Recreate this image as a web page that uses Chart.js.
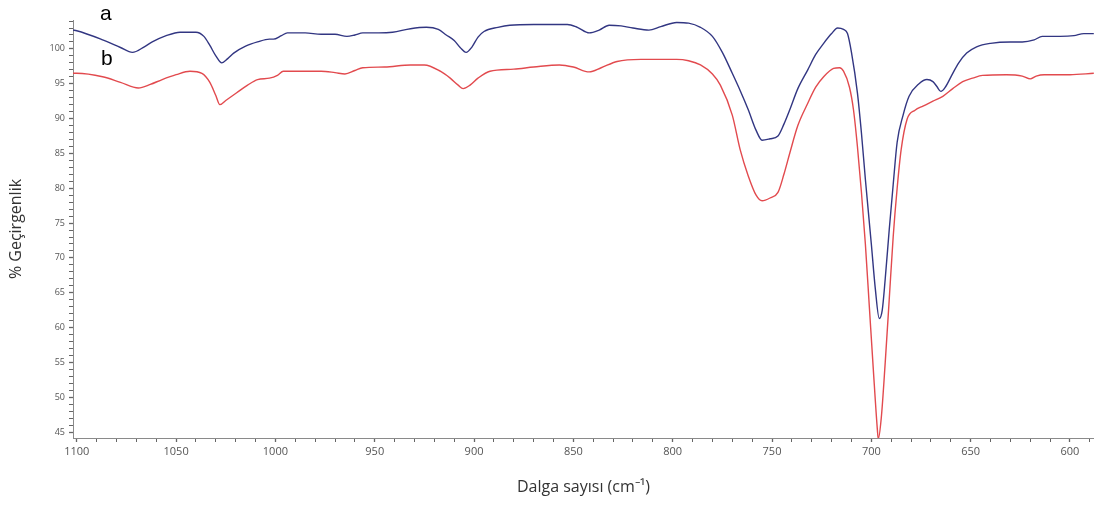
<!DOCTYPE html>
<html><head><meta charset="utf-8">
<script src="https://cdn.jsdelivr.net/npm/chart.js@4.4.1/dist/chart.umd.min.js"></script>
<style>html,body{margin:0;padding:0;background:#fff}#wrap{width:1094px;height:507px;position:relative}</style>
</head><body><div id="wrap"><canvas id="c" width="1094" height="507"></canvas></div>
<script>
// Series a (blue)
const wnA = [1102,1100,1087,1078,1072,1066,1062,1055,1048,1040,1036,1033,1030,1027,1024,1021,1015,1009,1003,1001,997,994,985,977,970,964,960,956,948,941,932,924,918,914,910,907,904,901,898,895,888,882,870,853,848,842,837,832,826,820,812,806,798,792,786,780,775,770,766,762,758,755,751,747,744,741,737,732,728,724,720,717,714,712,710,707,705,703,700,698,696,694.5,693,691,689,687,684,681,676,672,669,667,665,663,659,656,652,647,640,630,624,618,614,605,598,593,588];
const valA = [102.7,102.6,101.3,100.2,99.5,100.3,101,101.9,102.4,102.4,101.8,100.5,99,98,98.6,99.4,100.4,101,101.4,101.4,101.9,102.3,102.3,102.1,102.1,101.8,102.0,102.3,102.3,102.4,102.9,103.1,102.8,102,101.2,100.2,99.5,100.3,101.7,102.5,103.1,103.4,103.5,103.5,103.1,102.3,102.7,103.4,103.3,103,102.7,103.2,103.8,103.7,103.1,101.8,99.5,96.5,94,91.3,88.3,86.9,87.1,87.5,89.2,91.3,94.3,97,99.2,100.8,102.2,103,102.8,102.2,99.5,93.7,88,81.3,72,65.6,61.3,62.5,67,74,80.5,86.6,90.5,93.2,95,95.6,95.3,94.6,93.9,94.4,96.5,98,99.4,100.3,100.8,101,101,101.3,101.8,101.8,101.9,102.2,102.2];
// Series b (red)
const wnB = [1102,1100,1087,1078,1069,1063,1057,1050,1043,1037,1033,1030,1028,1025,1019.5,1014,1009,1003,999,996,985,977,970,965,960,956,945,932,925,917,912,908,905.5,902,898,892,880,870,857,850,842,836,828,816,798,792,786,780,776,770,766,762,758,755,751,747,744,741,737,732,728,724,719,716,714,711,709,707,705,703,701,699,697,696.5,695,693,691,689,687,685,682,678,674,669,664,659,654,649,644,632,624,620,617,613,600,588];
const valB = [96.5,96.5,96,95.2,94.4,94.9,95.6,96.3,96.8,96.5,95.2,93.3,92,92.6,93.7,94.8,95.6,95.8,96.2,96.8,96.8,96.8,96.6,96.4,96.9,97.3,97.4,97.7,97.7,96.8,95.8,94.8,94.3,94.8,95.8,96.8,97.1,97.4,97.7,97.4,96.7,97.3,98.2,98.5,98.5,98.3,97.7,96.4,94.8,90.5,85.5,81.8,79,78.2,78.6,79.4,82,85.1,89,92.2,94.5,96,97.2,97.3,96.8,94.5,91.3,86,79.5,72,63,54,45.5,44.0,47,55,64,73,80,85.5,89.9,91.2,91.8,92.5,93.2,94.3,95.3,95.8,96.2,96.3,96.1,95.7,96.1,96.3,96.3,96.5];
// Axis ticks (labelled majors and unlabelled minor tick positions)
const xMajorTicks = [1100,1050,1000,950,900,850,800,750,700,650,600];
const xMinorTicks = [1090,1080,1070,1060,1040,1030,1020,1010,990,980,970,960,940,930,920,910,890,880,870,860,840,830,820,810,790,780,770,760,740,730,720,710,690,680,670,660,640,630,620,610,590];
const yMajorTicks = [45,50,55,60,65,70,75,80,85,90,95,100];
const yMinorTicks = [46,47,48,49,51,52,53,54,56,57,58,59,61,62,63,64,66,67,68,69,71,72,73,74,76,77,78,79,81,82,83,84,86,87,88,89,91,92,93,94,96,97,98,99,101,102,103,104];
const seriesLabels = ['a','b'];
const xTitle = 'Dalga sayısı (cm⁻¹)';
const yTitle = '% Geçirgenlik';

const ptsA = wnA.map((x,i)=>({x, y: valA[i]}));
const ptsB = wnB.map((x,i)=>({x, y: valB[i]}));

const letterPlugin = {
  id: 'letters',
  afterDraw(chart){
    const ctx = chart.ctx;
    ctx.save();
    ctx.fillStyle = '#000';
    ctx.font = '21px "Liberation Sans", Arial, sans-serif';
    ctx.textBaseline = 'alphabetic';
    ctx.fillText(seriesLabels[0], 100, 20);
    ctx.fillText(seriesLabels[1], 101, 65);
    ctx.restore();
  }
};

const mkTicks = (maj, min) => maj.concat(min).sort((a,b)=>a-b).map(v=>({value:v}));

new Chart(document.getElementById('c'), {
  type: 'line',
  data: {
    datasets: [
      {label: seriesLabels[0], data: ptsA, borderColor: 'rgb(50,54,130)', borderWidth: 1.4, pointRadius: 0, fill: false, cubicInterpolationMode: 'monotone'},
      {label: seriesLabels[1], data: ptsB, borderColor: 'rgb(226,74,78)', borderWidth: 1.4, pointRadius: 0, fill: false, cubicInterpolationMode: 'monotone'}
    ]
  },
  plugins: [letterPlugin],
  options: {
    responsive: false,
    animation: false,
    layout: {padding: {top: 20, right: 0, left: 0, bottom: 0}},
    plugins: {legend: {display: false}, tooltip: {enabled: false}},
    scales: {
      x: {
        type: 'linear', reverse: true, min: 587.9, max: 1101.9,
        afterFit(s){ s.height = 69; },
        afterBuildTicks(s){ s.ticks = mkTicks(xMajorTicks, xMinorTicks); },
        border: {display: true, color: '#8a8a8a', width: 1},
        grid: {drawOnChartArea: false, tickLength: 4, tickColor: '#666',
          tickWidth: c => (c.tick && xMajorTicks.includes(c.tick.value)) ? 1.3 : 1},
        ticks: {autoSkip: false, maxRotation: 0, padding: 3, color: '#555',
          font: {family: '"Open Sans", sans-serif', size: 11},
          callback: v => xMajorTicks.includes(Math.round(v)) ? String(Math.round(v)) : ''},
        title: {display: true, text: xTitle, color: '#333', font: {family: '"Open Sans", sans-serif', size: 16}, padding: {top: 0, bottom: 10}}
      },
      y: {
        type: 'linear', min: 44.15, max: 104.15,
        afterFit(s){ s.width = 73; },
        afterBuildTicks(s){ s.ticks = mkTicks(yMajorTicks, yMinorTicks); },
        border: {display: true, color: '#8a8a8a', width: 1},
        grid: {drawOnChartArea: false, tickLength: 4, tickColor: '#666',
          tickWidth: c => (c.tick && yMajorTicks.includes(c.tick.value)) ? 1.3 : 1},
        ticks: {autoSkip: false, padding: 4, color: '#555',
          font: {family: '"Open Sans", sans-serif', size: 9},
          callback: v => yMajorTicks.includes(Math.round(v)) ? String(Math.round(v)) : ''},
        title: {display: true, text: yTitle, color: '#333', font: {family: '"Open Sans", sans-serif', size: 16}, padding: {top: 7, bottom: 0}}
      }
    }
  }
});
</script></body></html>
